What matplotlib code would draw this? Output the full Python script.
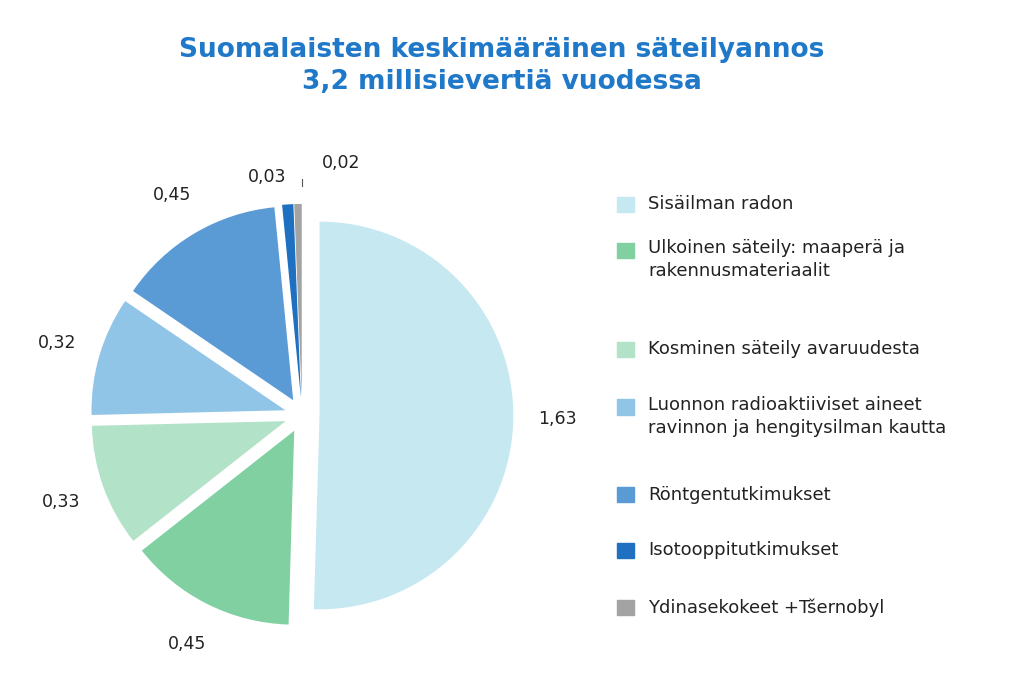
import matplotlib
matplotlib.use("Agg")
import matplotlib.pyplot as plt
import numpy as np

categories = ["Sisäilman radon", "Ulkoinen säteily: maaperä ja\nrakennusmateriaalit",
              "Kosminen säteily avaruudesta",
              "Luonnon radioaktiiviset aineet\nravinnon ja hengitysilman kautta",
              "Röntgentutkimukset", "Isotooppitutkimukset", "Ydinasekokeet +Tšernobyl"]
values = [1.63, 0.45, 0.33, 0.32, 0.45, 0.03, 0.02]
value_labels = ["1,63", "0,45", "0,33", "0,32", "0,45", "0,03", "0,02"]
colors = ["#c6e8f1", "#80d0a2", "#b2e3c9", "#90c5e7", "#5a9bd6", "#1f70c1", "#a3a3a3"]

fig = plt.figure(figsize=(10.24, 6.92), dpi=100)
ax = fig.add_axes([0.03, 0.0, 0.53, 0.8])
wedges, _ = ax.pie(values, colors=colors, startangle=90, counterclock=False,
                   explode=[0.09] * len(values), radius=1.0,
                   wedgeprops=dict(linewidth=0))
ax.set_xlim(-1.4, 1.4); ax.set_ylim(-1.22, 1.22); ax.set_aspect("equal")

total = sum(values)
ang = 90
for i, (v, lab) in enumerate(zip(values, value_labels)):
    mid = np.deg2rad(ang - v / total * 360 / 2)
    ang -= v / total * 360
    r = 1.32
    x, y = r * np.cos(mid), r * np.sin(mid)
    if i == 5:
        x, y = -0.18, 1.23
    if i == 6:
        ax.plot([0.0, 0.0, 0.04], [1.18, 1.26, 1.26], color="#555", lw=0.8)
        x, y = 0.2, 1.3
    ax.text(x, y, lab, ha="center", va="center", fontsize=12.5, color="#222")

fig.text(0.49, 0.905, "Suomalaisten keskimääräinen säteilyannos\n3,2 millisievertiä vuodessa",
         ha="center", va="center", fontsize=19, fontweight="bold", color="#1f78c8",
         linespacing=1.3)

ytops = [0.705, 0.638, 0.495, 0.412, 0.285, 0.205, 0.122]
for c, col, y in zip(categories, colors, ytops):
    nl = c.count("\n")
    fig.patches.append(plt.Rectangle((0.603, y - 0.011), 0.016, 0.022,
                                     transform=fig.transFigure, color=col))
    if nl:
        fig.text(0.633, y + 0.016, c, ha="left", va="top", fontsize=13, color="#222",
                 linespacing=1.35)
    else:
        fig.text(0.633, y, c, ha="left", va="center", fontsize=13, color="#222")
fig.savefig("out.png", dpi=100, facecolor="white")
